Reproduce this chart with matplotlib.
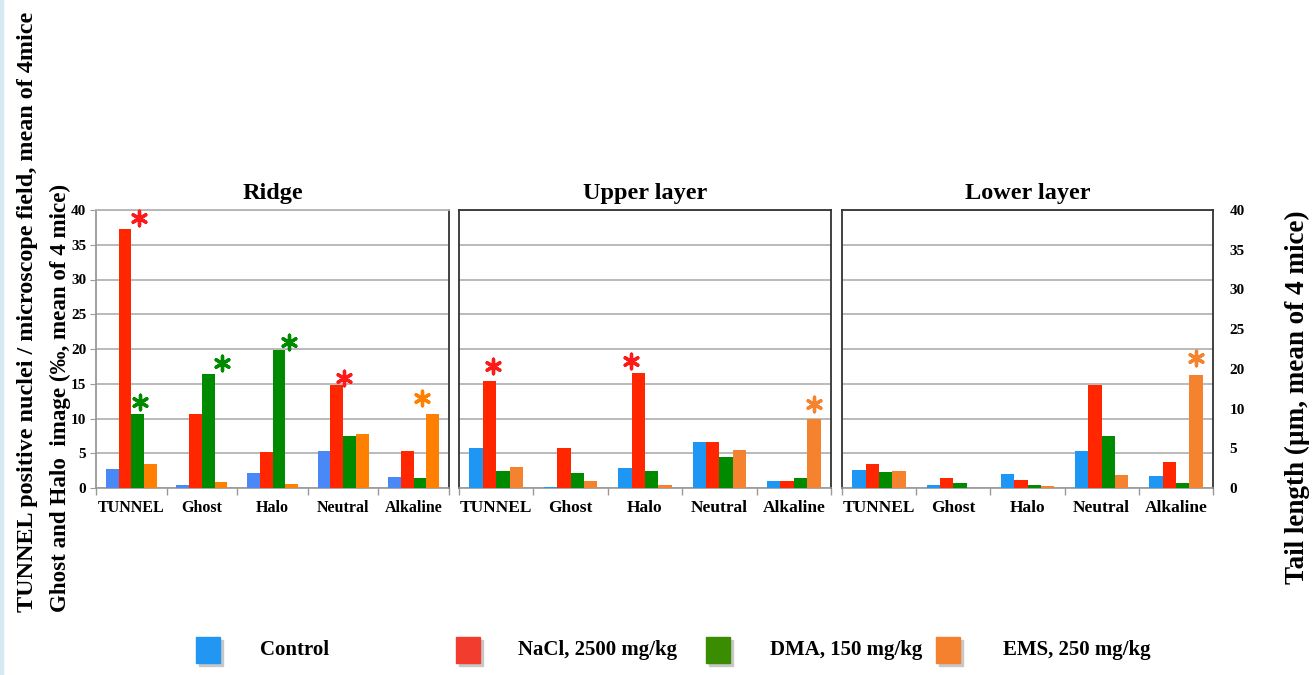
import numpy as np
import matplotlib
matplotlib.use("Agg")
import matplotlib.pyplot as plt
from matplotlib.patches import Rectangle

plt.rcParams['font.family'] = ['Liberation Serif', 'DejaVu Serif']
plt.rcParams['font.weight'] = 'bold'

categories = ["TUNNEL", "Ghost", "Halo", "Neutral", "Alkaline"]
series = ["Control", "NaCl, 2500 mg/kg", "DMA, 150 mg/kg", "EMS, 250 mg/kg"]
panels = ["Ridge", "Upper layer", "Lower layer"]

# values per panel: rows = series, cols = categories
ridge = [
    [2.7, 0.5, 2.1, 5.3, 1.6],
    [37.3, 10.7, 5.2, 14.8, 5.3],
    [10.7, 16.4, 19.9, 7.5, 1.4],
    [3.4, 0.9, 0.6, 7.8, 10.7],
]
upper = [
    [5.7, 0.2, 2.9, 6.6, 1.0],
    [15.4, 5.7, 16.5, 6.6, 1.0],
    [2.4, 2.1, 2.5, 4.5, 1.4],
    [3.0, 1.0, 0.5, 5.4, 9.9],
]
lower = [
    [2.6, 0.5, 2.0, 5.3, 1.7],
    [3.4, 1.4, 1.2, 14.8, 3.7],
    [2.3, 0.7, 0.5, 7.5, 0.7],
    [2.5, 0.0, 0.3, 1.9, 16.2],
]
panel_values = [ridge, upper, lower]

# significant bars: (panel, category, series)
stars = [(0, 0, 1), (0, 0, 2), (0, 1, 2), (0, 2, 2), (0, 3, 1), (0, 4, 3),
         (1, 0, 1), (1, 2, 1), (1, 4, 3),
         (2, 4, 3)]
star_dx = [0.2, 0.04, 0.2, 0.15, 0.1, -0.15, 0.05, -0.1, 0.0, 0.0]
star_dy = [1.6, 1.7, 1.6, 1.1, 1.0, 2.3, 2.1, 1.8, 2.2, 2.5]

right_ticklabels = ["0", "5", "10", "20", "25", "30", "35", "40"]

colors_ridge = ["#4a88f7", "#ff2600", "#008a00", "#ff8000"]
colors_other = ["#1e96f3", "#ff2600", "#008a00", "#f5822f"]
legend_colors = ["#2196f3", "#f23c2e", "#3a8c00", "#f5812f"]

W, H = 1312, 675
fig = plt.figure(figsize=(W / 100, H / 100), dpi=100)

# light strip on the left edge
fig.patches.append(Rectangle((0, 0), 3 / W, 1, transform=fig.transFigure,
                             color="#d6eaf3", zorder=0))

boxes = [(96, 449), (459, 831), (842, 1213)]
top_px, bot_px = 210, 488
width = 0.18
x = np.arange(len(categories))
axes = []
for p, (l, r) in enumerate(boxes):
    ax = fig.add_axes([l / W, 1 - bot_px / H, (r - l) / W, (bot_px - top_px) / H])
    axes.append(ax)
    cols = colors_ridge if p == 0 else colors_other
    for s in range(4):
        ax.bar(x + (s - 1.5) * width, panel_values[p][s], width,
               color=cols[s], zorder=3, linewidth=0)
    ax.set_xlim(-0.5, 4.5)
    ax.set_ylim(0, 40)
    ax.set_yticks(np.arange(0, 41, 5))
    ax.grid(axis='y', color="#b4b4b4", linewidth=1.3, zorder=0)
    ax.set_axisbelow(True)
    ax.set_xticks(x)
    ax.set_xticklabels(categories, fontsize=11.5 if p == 0 else 12.5,
                       fontweight='bold')
    ax.set_xticks(np.arange(-0.5, 5, 1), minor=True)
    ax.tick_params(axis='x', which='major', length=0, pad=9)
    ax.tick_params(axis='x', which='minor', length=5, color="#999999", width=1)
    ax.spines['bottom'].set_color("#999999")
    ax.spines['bottom'].set_linewidth(1.2)
    for side in ['top', 'right', 'left']:
        ax.spines[side].set_color("#333333")
        ax.spines[side].set_linewidth(1.3)
    if p == 0:
        ax.spines['left'].set_color("#999999")
        ax.spines['top'].set_color("#b4b4b4")
        ax.tick_params(axis='y', length=4, color="#999999", pad=3,
                       labelsize=11)
    else:
        ax.tick_params(axis='y', length=0, labelleft=False)
    ax.set_title(panels[p], fontsize=17.5, fontweight='bold', pad=8)

# significance stars
for (p, c, s), dx, dy in zip(stars, star_dx, star_dy):
    cols = colors_ridge if p == 0 else colors_other
    col = "#ff1a1a" if s == 1 else cols[s]
    axes[p].scatter(c + (s - 1.5) * width + dx, panel_values[p][s][c] + dy,
                    marker=(6, 2, 0), s=110, color=col, linewidths=2.4,
                    zorder=4, clip_on=False)

# right axis
axr = axes[2].twinx()
axr.set_ylim(0, 40)
axr.set_yticks(np.linspace(0, 40, len(right_ticklabels)))
axr.set_yticklabels(right_ticklabels, fontsize=11, fontweight='bold')
axr.tick_params(axis='y', length=0, pad=12)
for side in axr.spines:
    axr.spines[side].set_visible(False)

# axis titles
fig.text(28 / W, 1 - 612 / H,
         "TUNNEL positive nuclei / microscope field, mean of 4mice",
         rotation=90, ha='center', va='bottom', fontsize=17.4,
         fontweight='bold')
fig.text(60 / W, 1 - 612 / H,
         "Ghost and Halo  image (‰, mean of 4 mice)",
         rotation=90, ha='center', va='bottom', fontsize=16.6,
         fontweight='bold')
fig.text(1297 / W, 1 - 397 / H, "Tail length (µm, mean of 4 mice)",
         rotation=90, ha='center', va='center', fontsize=19.5,
         fontweight='bold')

# legend
sq_x = [196, 456, 706, 936]
txt_x = [260, 518, 770, 1003]
for lab, col, sx, tx in zip(series, legend_colors, sq_x, txt_x):
    fig.patches.append(Rectangle(((sx + 3) / W, 1 - 666 / H), 24 / W, 26 / H,
                                 transform=fig.transFigure, color="#c8c8c8",
                                 zorder=1))
    fig.patches.append(Rectangle((sx / W, 1 - 663 / H), 24 / W, 26 / H,
                                 transform=fig.transFigure, color=col,
                                 zorder=2))
    fig.text(tx / W, 1 - 650 / H, lab, ha='left', va='center', fontsize=15,
             fontweight='bold')

fig.savefig("out.png", dpi=100)
